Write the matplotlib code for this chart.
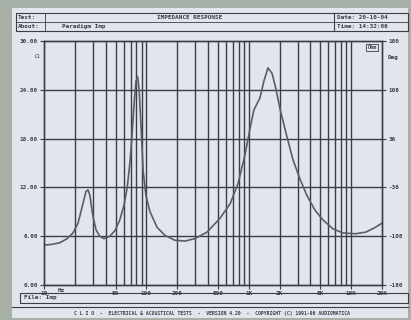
import numpy as np
import matplotlib
matplotlib.use('Agg')
import matplotlib.pyplot as plt
from matplotlib.patches import Rectangle

# impedance curve (Hz, Ohm)
freq_hz = [10, 12, 14.3, 16.8, 19.2, 21.5, 24, 25.7, 26.9, 28.1, 30, 32.2, 35,
           38.5, 44, 49.4, 55, 60.4, 65, 69, 72, 75.6, 79, 82, 85, 89, 93, 99,
           108.5, 127, 152, 190, 238, 297, 391, 523, 658, 786, 918, 1020, 1120,
           1285, 1400, 1540, 1690, 1850, 2030, 2330, 2700, 3170, 3700, 4430,
           5300, 6640, 8320, 11000, 13900, 17300, 20000]
imp_ohm = [4.9, 5.0, 5.2, 5.7, 6.4, 7.6, 10.0, 11.5, 11.7, 11.0, 8.5, 6.8, 6.0,
           5.7, 6.0, 6.7, 8.0, 9.8, 12.0, 15.0, 18.0, 22.0, 25.0, 25.6, 24.0,
           19.0, 14.0, 11.0, 9.0, 7.1, 6.1, 5.5, 5.4, 5.7, 6.5, 8.2, 10.0, 12.5,
           16.0, 19.0, 21.5, 23.0, 25.0, 26.7, 26.0, 24.0, 21.5, 18.5, 15.4,
           13.0, 11.0, 9.2, 8.0, 6.9, 6.4, 6.3, 6.5, 7.1, 7.6]

ohm_ticks = [0, 6, 12, 18, 24, 30]
ohm_labels = ['0.00', '6.00', '12.00', '18.00', '24.00', '30.00']
deg_ticks = [-180, -108, -36, 36, 108, 180]
x_ticks = [10, 50, 100, 200, 500, 1000, 2000, 5000, 10000, 20000]
x_labels = ['10', '50', '100', '200', '500', '1K', '2K', '5K', '10K', '20K']

W, H = 411, 320
ink = '#3a3d42'
mono = 'DejaVu Sans Mono'
fs = 4.3

fig = plt.figure(figsize=(W / 100, H / 100), dpi=100)
fig.patch.set_facecolor('#a7b0a6')

# background "screen" in pixel coordinates
bg = fig.add_axes([0, 0, 1, 1])
bg.set_xlim(0, W)
bg.set_ylim(H, 0)
bg.axis('off')
bg.add_patch(Rectangle((12, 8), 396, 310, facecolor='#e2e6ec', edgecolor='none'))

# header boxes
bg.add_patch(Rectangle((16, 13), 392, 18, facecolor='none', edgecolor=ink, lw=0.8))
bg.plot([16, 408], [22, 22], color=ink, lw=0.6)
bg.plot([45, 45], [13, 31], color=ink, lw=0.6)
bg.plot([334, 334], [13, 31], color=ink, lw=0.8)
bg.text(18, 17.5, 'Test:', fontsize=fs, family=mono, color=ink, va='center', weight='bold')
bg.text(18, 26.5, 'About:', fontsize=fs, family=mono, color=ink, va='center', weight='bold')
bg.text(190, 17.5, 'IMPEDANCE RESPONSE', fontsize=fs, family=mono, color=ink,
        va='center', ha='center', weight='bold')
bg.text(62, 26.5, 'Paradigm Imp', fontsize=fs, family=mono, color=ink, va='center', weight='bold')
bg.text(337, 17.5, 'Date: 20-10-04', fontsize=fs, family=mono, color=ink, va='center', weight='bold')
bg.text(337, 26.5, 'Time: 14:32:06', fontsize=fs, family=mono, color=ink, va='center', weight='bold')

# file box and footer
bg.add_patch(Rectangle((20, 293), 388, 10, facecolor='none', edgecolor=ink, lw=0.8))
bg.text(24, 298, 'File: Imp', fontsize=fs, family=mono, color=ink, va='center', weight='bold')
bg.plot([12, 408], [307, 307], color=ink, lw=0.8)
bg.text(212, 313, 'C L I O  -  ELECTRICAL & ACOUSTICAL TESTS  -  VERSION 4.20  -  '
        'COPYRIGHT (C) 1991-96 AUDIOMATICA', fontsize=3.4, family=mono, color=ink,
        va='center', ha='center', weight='bold')

# axis unit labels
bg.text(37, 57, '\u03a9', fontsize=fs, color=ink, va='center', ha='center')
bg.text(393, 57, 'Deg', fontsize=fs, family=mono, color=ink, va='center', ha='center', weight='bold')
bg.text(61, 290, 'Hz', fontsize=fs, family=mono, color=ink, va='center', ha='center', weight='bold')

# main plot
ax = fig.add_axes([44 / W, 1 - 285 / H, (382 - 44) / W, (285 - 41) / H])
ax.set_facecolor('none')
ax.set_xscale('log')
ax.set_xlim(10, 20000)
ax.set_ylim(0, 30)

grid_f = [m * 10 ** d for d in range(1, 5) for m in range(1, 10)]
for f in grid_f:
    if 10 < f < 20000:
        ax.axvline(f, color=ink, lw=1.0)
for v in ohm_ticks[1:-1]:
    ax.axhline(v, color=ink, lw=1.0)

ax.plot(freq_hz, imp_ohm, color='#5a5e63', lw=1.2, solid_joinstyle='round')

ax.set_xticks(x_ticks)
ax.set_xticklabels(x_labels)
ax.xaxis.set_minor_locator(matplotlib.ticker.NullLocator())
ax.set_yticks(ohm_ticks)
ax.set_yticklabels(ohm_labels)
ax.tick_params(axis='both', labelsize=fs, colors=ink, length=3, width=0.8, pad=1.5)
for lab in ax.get_xticklabels() + ax.get_yticklabels():
    lab.set_family(mono)
    lab.set_weight('bold')
for s in ax.spines.values():
    s.set_color(ink)
    s.set_linewidth(1.0)

ax2 = ax.twinx()
ax2.set_ylim(-180, 180)
ax2.set_yticks(deg_ticks)
ax2.set_yticklabels([str(d) for d in deg_ticks])
ax2.tick_params(axis='y', labelsize=fs, colors=ink, length=3, width=0.8, pad=1.5)
for lab in ax2.get_yticklabels():
    lab.set_family(mono)
    lab.set_weight('bold')
for s in ax2.spines.values():
    s.set_color(ink)
    s.set_linewidth(1.0)

# "Ohm" tag in top right corner of the plot
ax.text(0.985, 0.985, 'Ohm', transform=ax.transAxes, fontsize=3.8, family=mono,
        color=ink, ha='right', va='top', weight='bold',
        bbox=dict(boxstyle='square,pad=0.2', facecolor='#e2e6ec', edgecolor=ink, lw=0.6))

fig.savefig('out.png', dpi=100, facecolor=fig.get_facecolor())
